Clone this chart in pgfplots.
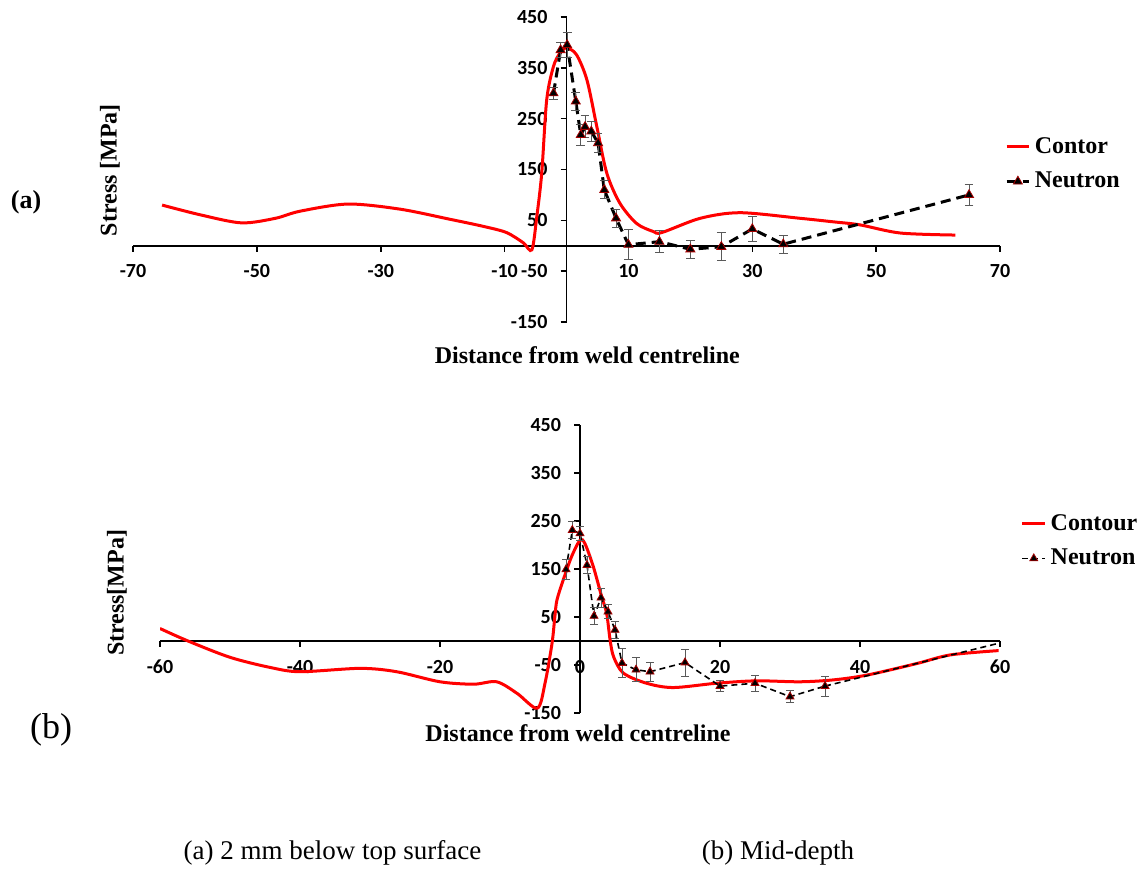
\documentclass[border=0pt]{standalone}
\usepackage{fontspec}
\setmainfont{Liberation Serif}
\newfontfamily\tickfont{Carlito}
\usepackage{pgfplots}
\pgfplotsset{compat=1.18}

\pgfplotsset{
 mystyle/.style={
  scale only axis,
  axis lines=middle,
  axis line style={-, line width=0.8pt, black},
  tick align=outside,
  major tick length=3pt,
  tick style={black, line width=0.8pt},
  ticklabel style={font=\tickfont\bfseries\fontsize{10}{12}\selectfont},
  xticklabel style={anchor=north, yshift=-3pt},
  yticklabel style={anchor=east, xshift=-3pt},
  hide obscured x ticks=false,
  hide obscured y ticks=false,
  label style={font=\bfseries\fontsize{12}{14}\selectfont},
  legend style={draw=none, fill=none, font=\bfseries\fontsize{12}{14}\selectfont, row sep=4pt, inner sep=1pt},
  legend cell align=left,
  legend image code/.code={\draw[mark repeat=2,mark phase=2,##1] plot coordinates {(0cm,0cm) (0.2cm,0cm) (0.4cm,0cm)};},
 }
}

\begin{document}
\begin{tikzpicture}
\useasboundingbox (0,0) rectangle (569.5pt,438pt);

% ---------------- (a) ----------------
\begin{axis}[mystyle,
  at={(66.5pt,277pt)}, anchor=south west,
  width=433.5pt, height=152.5pt,
  xmin=-70, xmax=70, ymin=-150, ymax=450,
  xtick={-70,-50,-30,-10,10,30,50,70},
  xticklabels={-70,-50,-30,-10,10,30,50,70},
  ytick={-150,-50,50,150,250,350,450},
  yticklabels={-150,-50,50,150,250,350,450},
  xlabel={Distance from weld centreline},
  ylabel={Stress [MPa]},
  xlabel style={at={(axis description cs:0.524,-0.108)}, anchor=center},
  ylabel style={at={(axis description cs:-0.0265,0.498)}, anchor=center, rotate=90},
  legend style={at={(axis description cs:1.003,0.518)}, anchor=west},
]
\addplot[red, line width=1.5pt, smooth, tension=0.5] coordinates {
(-65.3,80) (-59.2,61) (-52.5,45) (-47,54) (-43,68) (-35.3,82) (-26.9,72)
(-18.8,52) (-13.4,38) (-9.7,26) (-7,6) (-5.6,-8) (-4.8,57) (-4.0,143)
(-3.2,287) (-2.1,353) (-1.05,379) (0,389) (1.6,376) (3.3,326) (4.9,234)
(6.5,143) (8.6,84) (11.3,44) (14,28) (15.4,26) (21.6,54) (28,65) (37.7,54)
(43.1,47) (47.4,41) (53.9,25) (62.8,21)
};
\addlegendentry{Contor}
\addplot[black, dash pattern=on 5pt off 3pt, line width=1.5pt,
  mark=triangle*, mark size=2.6pt,
  mark options={solid, fill=black, draw=red!65!black, line width=0.4pt},
  error bars/.cd, y dir=both, y explicit,
  error bar style={solid, line width=0.5pt, black!65},
  error mark options={rotate=90, solid, mark size=2.2pt, line width=0.5pt, black!65}]
coordinates {
(-2.1,300) +- (0,12)
(-0.95,385) +- (0,15)
(0.1,395) +- (0,25)
(1.5,284) +- (0,18)
(2.3,218) +- (0,20)
(3,234) +- (0,22)
(4,225) +- (0,20)
(5.1,202) +- (0,18)
(6.1,110) +- (0,18)
(8,54) +- (0,18)
(10,2) +- (0,30)
(15,8) +- (0,22)
(20,-7) +- (0,18)
(25,-2) +- (0,28)
(30,33) +- (0,25)
(35,3) +- (0,18)
(65,100) +- (0,20)
};
\addlegendentry{Neutron}
\end{axis}

% ---------------- (b) ----------------
\begin{axis}[mystyle,
  at={(80pt,81.5pt)}, anchor=south west,
  width=420pt, height=144pt,
  xmin=-60, xmax=60, ymin=-150, ymax=450,
  xtick={-60,-40,-20,0,20,40,60},
  xticklabels={-60,-40,-20,0,20,40,60},
  ytick={-150,-50,50,150,250,350,450},
  yticklabels={-150,-50,50,150,250,350,450},
  xlabel={Distance from weld centreline},
  ylabel={Stress[MPa]},
  xlabel style={at={(axis description cs:0.4976,-0.07)}, anchor=center},
  ylabel style={at={(axis description cs:-0.0512,0.417)}, anchor=center, rotate=90},
  legend style={at={(axis description cs:1.022,0.597)}, anchor=west},
]
\addplot[red, line width=1.5pt, smooth, tension=0.5] coordinates {
(-60,26) (-56,0) (-50,-34) (-44.3,-55) (-40,-64) (-31.4,-57) (-26.2,-64)
(-20,-85) (-15.2,-90) (-11.9,-85) (-9,-109) (-6.1,-140) (-5,-88) (-4,-5)
(-3.6,50) (-3.3,85) (-2.4,127) (-1.2,176) (0,210) (0.7,203) (1.9,155)
(3.1,92) (3.8,58) (4.3,2) (4.8,-33) (6.2,-67) (9.5,-88) (13.3,-97)
(19.5,-88) (25.2,-83) (31.4,-85) (36.2,-81) (41,-71) (48.1,-47) (52.9,-29)
(59.8,-20)
};
\addlegendentry{Contour}
\addplot[black, dash pattern=on 3pt off 2pt, line width=0.8pt,
  mark=triangle*, mark size=2.3pt,
  mark options={solid, fill=black, draw=red!65!black, line width=0.4pt},
  error bars/.cd, y dir=both, y explicit,
  error bar style={solid, line width=0.5pt, black!65},
  error mark options={rotate=90, solid, mark size=2pt, line width=0.5pt, black!65}]
coordinates {
(-2,149) +- (0,20)
(-1.1,231) +- (0,17)
(0,224) +- (0,15)
(1,158) +- (0,18)
(2,52) +- (0,18)
(3,90) +- (0,20)
(4,61) +- (0,15)
(5,23) +- (0,18)
(6,-46) +- (0,30)
(8,-60) +- (0,25)
(10,-64) +- (0,20)
(15,-45) +- (0,28)
(20,-94) +- (0,12)
(25,-88) +- (0,17)
(30,-116) +- (0,12)
(35,-94) +- (0,21)
};
\addlegendentry{Neutron}
\addplot[black, dash pattern=on 3pt off 2pt, line width=0.8pt, forget plot]
coordinates {(35,-94) (60,-4)};
\end{axis}

\node[font=\bfseries\fontsize{13}{15}\selectfont] at (13pt,337pt) {(a)};
\node[font=\fontsize{18}{21}\selectfont] at (25.5pt,73pt) {(b)};
\node[font=\fontsize{13.5}{16}\selectfont, anchor=base] at (166.25pt,8pt) {(a) 2 mm below top surface};
\node[font=\fontsize{13.5}{16}\selectfont, anchor=base] at (389pt,8pt) {(b) Mid-depth};
\end{tikzpicture}
\end{document}
